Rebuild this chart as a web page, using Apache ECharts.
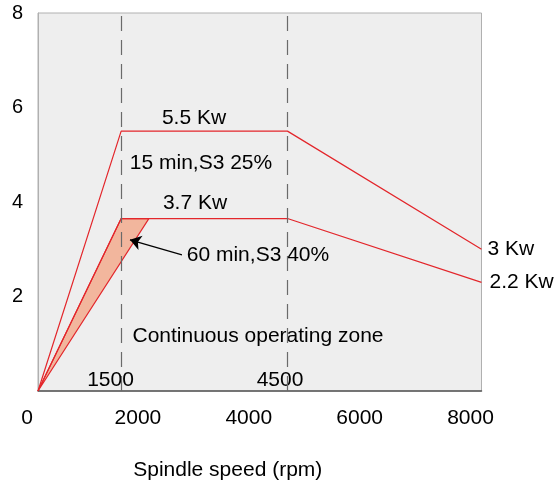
<!DOCTYPE html>
<html>
<head>
<meta charset="utf-8">
<script src="https://cdn.jsdelivr.net/npm/echarts@6/dist/echarts.min.js"></script>
<style>
html,body{margin:0;padding:0;background:#fff;}
#c{width:555px;height:484px;}
</style>
</head>
<body>
<div id="c"></div>
<script>
// Data (x: spindle speed rpm, y: power kW)
const curveS3_25 = [[0, 0], [1500, 5.5], [4500, 5.5], [8000, 3.0]];
const curveS3_40 = [[0, 0], [1500, 3.65], [4500, 3.65], [8000, 2.3]];
const zone60min = [[0, 0], [1500, 3.65], [2000, 3.65]];
const baseSpeeds = [1500, 4500];
const endLabels = ['3 Kw', '2.2 Kw'];
const annotations = [
  { text: '5.5 Kw', pos: [2814, 5.78] },
  { text: '15 min,S3 25%', pos: [2940, 4.83] },
  { text: '3.7 Kw', pos: [2832, 3.98] },
  { text: '60 min,S3 40%', pos: [3968, 2.88] },
  { text: 'Continuous operating zone', pos: [3968, 1.17] },
  { text: '1500', pos: [1308, 0.22] },
  { text: '4500', pos: [4365, 0.22] }
];
const arrowFrom = [2597, 2.88];
const arrowTo = [1659, 3.2];

const FONT = "'Liberation Sans', Arial, sans-serif";
const RED = '#e3262b';

const chart = echarts.init(document.getElementById('c'));
chart.setOption({
  animation: false,
  textStyle: { fontFamily: FONT },
  grid: {
    left: 38, right: 73.5, top: 13, bottom: 93,
    containLabel: false, outerBoundsMode: 'none',
    show: true, backgroundColor: '#eeeeee', borderColor: '#b0b0b0', borderWidth: 1
  },
  xAxis: {
    type: 'value', min: 0, max: 8000, interval: 2000,
    name: 'Spindle speed (rpm)', nameLocation: 'middle', nameGap: 69,
    nameTextStyle: { fontSize: 21, color: '#000', fontFamily: FONT, padding: [0, 64, 0, 0] },
    axisLine: { show: true, lineStyle: { color: '#555', width: 1.5 } },
    axisTick: { show: false },
    splitLine: { show: false },
    axisLabel: { fontSize: 21, color: '#000', margin: 17, fontFamily: FONT, padding: [0, 22, 0, 0],
      formatter: v => String(v) }
  },
  yAxis: {
    type: 'value', min: 0, max: 8, interval: 2,
    axisLine: { show: true, lineStyle: { color: '#b0b0b0' } },
    axisTick: { show: false },
    splitLine: { show: false },
    axisLabel: { fontSize: 20, color: '#000', margin: 15, fontFamily: FONT, showMinLabel: false, padding: [8, 0, 0, 0] }
  },
  series: [
    {
      type: 'custom',
      renderItem: function (params, api) {
        const pts = zone60min.map(p => api.coord(p));
        return {
          type: 'polygon',
          shape: { points: pts },
          style: { fill: '#f2b69d', stroke: RED, lineWidth: 1.2 }
        };
      },
      data: [0],
      z: 2
    },
    {
      type: 'line', data: curveS3_25, symbol: 'none',
      lineStyle: { color: RED, width: 1.2 }, z: 3,
      endLabel: { show: true, formatter: endLabels[0], fontSize: 21, color: '#000', fontFamily: FONT, distance: 6 }
    },
    {
      type: 'line', data: curveS3_40, symbol: 'none',
      lineStyle: { color: RED, width: 1.2 }, z: 3,
      endLabel: { show: true, formatter: endLabels[1], fontSize: 21, color: '#000', fontFamily: FONT, distance: 8 }
    },
    {
      type: 'scatter', symbolSize: 0, z: 4,
      itemStyle: { opacity: 1 },
      data: annotations.map(a => ({ value: a.pos, name: a.text })),
      label: {
        show: true, position: 'inside', formatter: p => p.name,
        fontSize: 21, color: '#000', fontFamily: FONT
      },
      markLine: {
        silent: true, symbol: ['none', 'arrow'], symbolSize: 11,
        label: { show: false },
        lineStyle: { color: '#000', width: 1.2, type: 'solid', opacity: 1 },
        itemStyle: { color: '#000', opacity: 1 },
        data: [[{ coord: arrowFrom }, { coord: arrowTo }]]
      }
    },
    {
      type: 'line', data: [], z: 5,
      markLine: {
        silent: true, symbol: 'none', label: { show: false },
        lineStyle: { color: '#6a6a6a', width: 1.2, type: [15, 9] },
        data: baseSpeeds.map(v => ({ xAxis: v }))
      }
    }
  ]
});
</script>
</body>
</html>
